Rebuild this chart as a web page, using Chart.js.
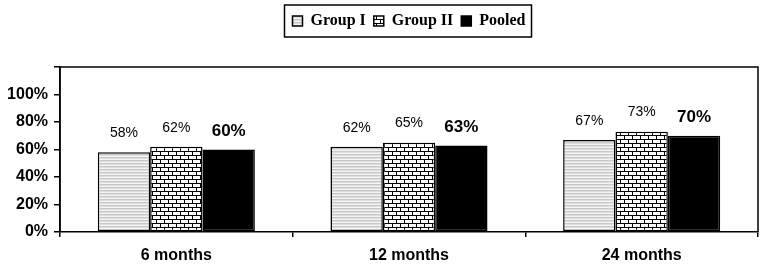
<!DOCTYPE html>
<html>
<head>
<meta charset="utf-8">
<script src="https://cdn.jsdelivr.net/npm/chart.js@4.4.1/dist/chart.umd.min.js"></script>
<style>
  html, body { margin: 0; padding: 0; background: #fff; }
  #wrap { width: 766px; height: 267px; }
</style>
</head>
<body>
<div id="wrap"><canvas id="chart"></canvas></div>
<script>
// data
const periods = ['6 months', '12 months', '24 months'];
const groupI = [58, 62, 67];
const groupII = [62, 65, 73];
const pooled = [60, 63, 70];
const yTicks = [0, 20, 40, 60, 80, 100];

// light gray horizontal stripes
function stripePattern() {
    const c = document.createElement('canvas');
    c.width = 4; c.height = 3;
    const g = c.getContext('2d');
    g.fillStyle = '#f4f4f4';
    g.fillRect(0, 0, 4, 3);
    g.fillStyle = '#c8c8c8';
    g.fillRect(0, 1, 4, 1);
    g.fillStyle = '#dedede';
    g.fillRect(0, 2, 4, 1);
    return g.createPattern(c, 'repeat');
}

// black and white brick pattern
function brickPattern() {
    const c = document.createElement('canvas');
    c.width = 8; c.height = 8;
    const g = c.getContext('2d');
    g.fillStyle = '#fff';
    g.fillRect(0, 0, 8, 8);
    g.fillStyle = '#000';
    g.fillRect(0, 3, 8, 1);
    g.fillRect(0, 7, 8, 1);
    g.fillRect(0, 0, 1, 3);
    g.fillRect(4, 4, 1, 3);
    return g.createPattern(c, 'repeat');
}

// frame around the plot + box around the legend items
const framePlugin = {
    id: 'frame',
    afterDraw(chart) {
        const ctx = chart.ctx;
        const a = chart.chartArea;
        ctx.save();
        ctx.strokeStyle = '#000';
        ctx.lineWidth = 1.5;
        ctx.beginPath();
        ctx.moveTo(a.left, a.bottom);
        ctx.lineTo(a.left, a.top);
        ctx.lineTo(a.right, a.top);
        ctx.lineTo(a.right, a.bottom);
        ctx.stroke();
        const hb = chart.legend.legendHitBoxes;
        if (hb && hb.length) {
            const l = Math.min(...hb.map(b => b.left)) - 8;
            const r = Math.max(...hb.map(b => b.left + b.width)) + 6;
            const t = hb[0].top - 8;
            const b = hb[0].top + hb[0].height + 8;
            ctx.lineWidth = 1.5;
            ctx.strokeRect(l, t, r - l, b - t);
        }
        ctx.restore();
    }
};

// value labels above the bars
const labelPlugin = {
    id: 'valueLabels',
    afterDatasetsDraw(chart) {
        const ctx = chart.ctx;
        ctx.save();
        ctx.fillStyle = '#000';
        ctx.textAlign = 'center';
        ctx.textBaseline = 'middle';
        chart.data.datasets.forEach((ds, i) => {
            const meta = chart.getDatasetMeta(i);
            ctx.font = (i === 2 ? 'bold 17px' : '14px') + ' "Liberation Sans", Arial, sans-serif';
            meta.data.forEach((bar, j) => {
                ctx.fillText(ds.data[j] + '%', bar.x, bar.y - (i === 2 ? 18 : 19));
            });
        });
        ctx.restore();
    }
};

// leave room between the legend and the plot
const legendGapPlugin = {
    id: 'legendGap',
    afterInit(chart) {
        const lg = chart.legend;
        const fit = lg.fit;
        lg.fit = function () {
            fit.call(this);
            this.height += 28;
        };
    }
};

const ctx = document.getElementById('chart').getContext('2d');
const chart = new Chart(ctx, {
    type: 'bar',
    data: {
        labels: periods,
        datasets: [
            { label: 'Group I', data: groupI, backgroundColor: stripePattern() },
            { label: 'Group II', data: groupII, backgroundColor: brickPattern() },
            { label: 'Pooled', data: pooled, backgroundColor: '#000' }
        ]
    },
    options: {
        responsive: true,
        maintainAspectRatio: false,
        animation: false,
        layout: { padding: { top: 5, right: 8, bottom: 0, left: 0 } },
        datasets: {
            bar: {
                borderColor: '#000',
                borderWidth: 1.5,
                borderSkipped: false,
                categoryPercentage: 0.675,
                barPercentage: 1
            }
        },
        plugins: {
            tooltip: { enabled: false },
            legend: {
                position: 'top',
                align: 'center',
                fullSize: false,
                labels: {
                    color: '#000',
                    boxWidth: 10,
                    boxHeight: 10,
                    padding: 8,
                    font: { family: '"Liberation Serif", "Times New Roman", serif', size: 16, weight: 'bold' }
                }
            }
        },
        scales: {
            x: {
                offset: true,
                afterFit(scale) { scale.height = 35; },
                grid: { offset: true, drawOnChartArea: false, color: '#000', tickLength: 5, lineWidth: 1.5 },
                border: { color: '#000', width: 1.5 },
                ticks: {
                    color: '#000',
                    padding: 9,
                    font: { family: '"Liberation Sans", Arial, sans-serif', size: 16, weight: 'bold' }
                }
            },
            y: {
                min: 0,
                max: 120,
                afterFit(scale) { scale.width = 60; },
                afterBuildTicks(scale) {
                    scale.ticks = yTicks.concat([120]).map(v => ({ value: v }));
                },
                grid: { drawOnChartArea: false, color: '#000', tickLength: 6, lineWidth: 1.5 },
                border: { color: '#000', width: 1.5 },
                ticks: {
                    color: '#000',
                    padding: 6,
                    font: { family: '"Liberation Sans", Arial, sans-serif', size: 16, weight: 'bold' },
                    callback: v => (yTicks.includes(v) ? v + '%' : '')
                }
            }
        }
    },
    plugins: [framePlugin, labelPlugin, legendGapPlugin]
});
</script>
</body>
</html>
